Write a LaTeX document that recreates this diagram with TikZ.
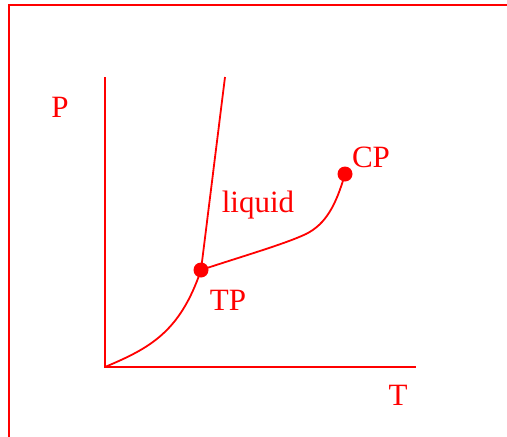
\documentclass[tikz,border=0pt]{standalone}
\usepackage{fontspec}
\setmainfont{Liberation Serif}
\usetikzlibrary{positioning}

\begin{document}
\begin{tikzpicture}[
        x=1pt, y=-1pt,
        lbl/.style={text=red, inner sep=0pt, font=\fontsize{31}{35}\selectfont},
        curve/.style={draw=red, line width=1.8pt},
        pt/.style={circle, fill=red, inner sep=0pt, minimum size=15pt},
      ]

      \useasboundingbox (0,0) rectangle (507,437);
      \draw[red, line width=1.8pt] (9,450) -- (9,5) -- (520,5);

      \coordinate (origin) at (105,367);
      \coordinate (ptop) at (105,77);
      \coordinate (tend) at (416,367);
      \coordinate (mtop) at (225,77);

      \node[pt] (tp) at (201,270) {};
      \node[pt] (cp) at (345,174) {};

      \node[lbl] (plbl) at (60,107) {P};
      \node[lbl] (tlbl) at (398,395) {T};
      \node[lbl] (tplbl) at (228,300) {TP};
      \node[lbl] (cplbl) at (371,157) {CP};
      \node[lbl] (liq) at (258,205) {liquid};

      % axes
      \draw[curve] (ptop) -- (origin) -- (tend);

      % melting, sublimation, vaporization
      \draw[curve] (tp.center) -- (mtop);
      \draw[curve] (origin) .. controls (150,348) and (180,332) .. (tp.center);
      \draw[curve] (tp.center) .. controls (240,257) and (285,244) .. (306,234) .. controls (326,224) and (336,205) .. (cp.center);

    \end{tikzpicture}
\end{document}
